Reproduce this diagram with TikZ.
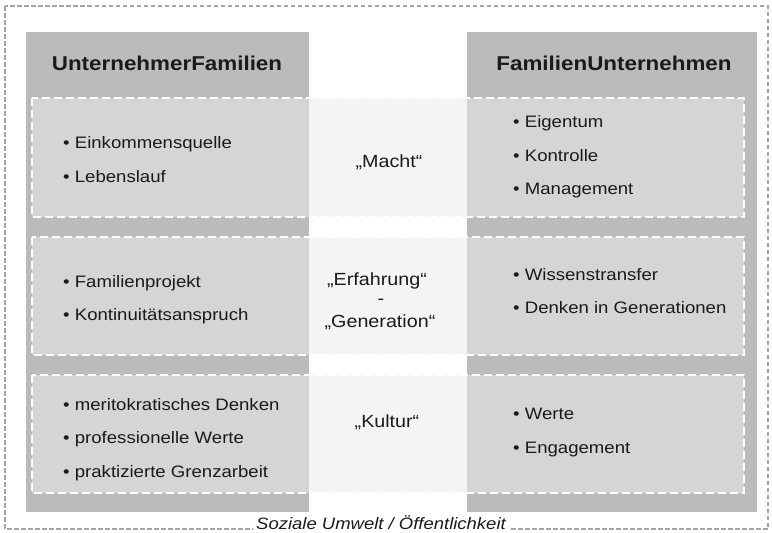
\documentclass[tikz,border=0pt]{standalone}
\usepackage{fontspec}
\setmainfont[FakeStretch=1.12]{Liberation Sans}
\definecolor{colgray}{HTML}{BBBBBB}
\definecolor{boxgray}{HTML}{D5D5D5}
\definecolor{midgray}{HTML}{F4F4F4}
\definecolor{framegray}{HTML}{A4A4A4}
\definecolor{txt}{HTML}{1A1A1A}
\begin{document}
\begin{tikzpicture}[x=1pt,y=-1pt,
  column/.style={fill=colgray,draw=none},
  rowbox/.style={fill=boxgray,draw=none},
  midband/.style={fill=midgray,draw=none},
  rowframe/.style={draw=white,line width=1.3pt,dash pattern=on 8pt off 4pt},
  head/.style={font=\fontsize{20}{22}\selectfont\bfseries,text=txt,inner sep=0pt,anchor=base},
  item/.style={font=\fontsize{16.6}{19}\selectfont,text=txt,inner sep=0pt,anchor=base west},
  mid/.style={font=\fontsize{17.6}{20}\selectfont,text=txt,inner sep=0pt,anchor=base}]
\useasboundingbox (0,0) rectangle (772,533);
% outer frame
\draw[framegray,line width=1.2pt,dash pattern=on 4.5pt off 2.5pt] (5,6) rectangle (768,529);
% columns
\fill[column] (26,32) rectangle (309,512);
\fill[column] (467,32) rectangle (757,512);
% rows
\foreach \ya/\yb in {98/217,237/355,375/493}{
  \fill[midband] (309,\ya) rectangle (467,\yb);
  \fill[rowbox] (32,\ya) rectangle (309,\yb);
  \fill[rowbox] (467,\ya) rectangle (744,\yb);
  \draw[rowframe] (32,\ya) rectangle (744,\yb);
}
% headers
\node[head] (hl) at (167,70) {UnternehmerFamilien};
\node[head] (hr) at (614,70) {FamilienUnternehmen};
% row 1
\node[item] (l11) at (63,148) {• Einkommensquelle};
\node[item] (l12) at (63,182) {• Lebenslauf};
\node[mid] (m1) at (389,167) {„Macht“};
\node[item] (r11) at (513,127) {• Eigentum};
\node[item] (r12) at (513,161) {• Kontrolle};
\node[item] (r13) at (513,194) {• Management};
% row 2
\node[item] (l21) at (63,287) {• Familienprojekt};
\node[item] (l22) at (63,320) {• Kontinuitätsanspruch};
\node[mid] (m21) at (377,285) {„Erfahrung“};
\node[mid] (m22) at (381,304) {-};
\node[mid] (m23) at (380,327) {„Generation“};
\node[item] (r21) at (513,280) {• Wissenstransfer};
\node[item] (r22) at (513,313) {• Denken in Generationen};
% row 3
\node[item] (l31) at (63,410) {• meritokratisches Denken};
\node[item] (l32) at (63,443) {• professionelle Werte};
\node[item] (l33) at (63,477) {• praktizierte Grenzarbeit};
\node[mid] (m3) at (387,427) {„Kultur“};
\node[item] (r31) at (513,419) {• Werte};
\node[item] (r32) at (513,453) {• Engagement};
% bottom label
\node[font=\fontsize{16.5}{19}\selectfont\itshape,text=txt,fill=white,inner xsep=3pt,inner ysep=1pt,anchor=base] (soz) at (381,529) {Soziale Umwelt / Öffentlichkeit};
\end{tikzpicture}
\end{document}
